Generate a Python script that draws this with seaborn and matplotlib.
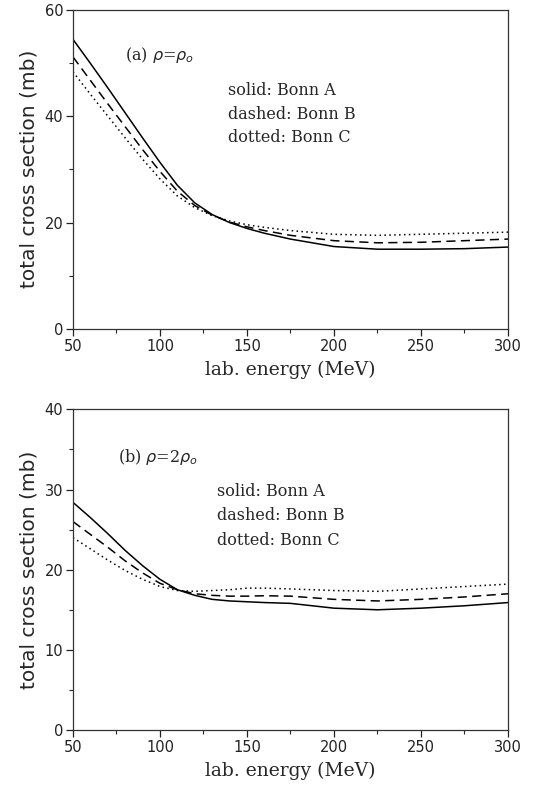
import numpy as np
import pandas as pd
import matplotlib
matplotlib.use("Agg")
import matplotlib.pyplot as plt
import seaborn as sns
from matplotlib.ticker import MultipleLocator

energy = [50, 60, 70, 80, 90, 100, 110, 120, 130, 140, 150, 160, 175, 200, 225, 250, 275, 300]

# panel (a) rho = rho_0
a_bonn_a = [54.4, 49.9, 45.3, 40.6, 35.9, 31.3, 27.0, 23.7, 21.5, 20.0, 18.9, 18.0, 16.9, 15.5, 15.0, 15.0, 15.1, 15.4]
a_bonn_b = [51.1, 46.7, 42.3, 38.0, 33.7, 29.6, 25.9, 23.2, 21.4, 20.1, 19.2, 18.5, 17.6, 16.6, 16.2, 16.3, 16.6, 16.9]
a_bonn_c = [48.3, 44.1, 40.0, 35.9, 31.9, 28.2, 25.0, 22.8, 21.3, 20.3, 19.6, 19.1, 18.5, 17.8, 17.6, 17.8, 18.0, 18.2]

# panel (b) rho = 2 rho_0
b_bonn_a = [28.4, 26.5, 24.5, 22.4, 20.5, 18.8, 17.5, 16.8, 16.3, 16.1, 16.0, 15.9, 15.8, 15.2, 15.0, 15.2, 15.5, 15.9]
b_bonn_b = [26.0, 24.4, 22.8, 21.1, 19.6, 18.3, 17.5, 17.0, 16.8, 16.7, 16.7, 16.75, 16.7, 16.3, 16.1, 16.3, 16.6, 17.0]
b_bonn_c = [24.0, 22.6, 21.2, 19.9, 18.8, 17.9, 17.4, 17.3, 17.4, 17.5, 17.7, 17.7, 17.6, 17.4, 17.3, 17.6, 17.9, 18.2]

x_ticks = [50, 100, 150, 200, 250, 300]
legend_lines = ["solid: Bonn A", "dashed: Bonn B", "dotted: Bonn C"]

sns.set_style("ticks")
plt.rcParams['font.family'] = ['DejaVu Sans']

fig = plt.figure(figsize=(5.57, 7.93), dpi=100)
ax1 = fig.add_axes([0.131, 0.585, 0.781, 0.403])
ax2 = fig.add_axes([0.131, 0.0794, 0.781, 0.4044])


def draw(ax, ya, yb, yc, ymax, major, minor, label, label_xy, leg_xy, leg_dy):
    df = pd.DataFrame({"E": energy * 3,
                       "sigma": ya + yb + yc,
                       "model": ["Bonn A"] * len(energy) + ["Bonn B"] * len(energy) + ["Bonn C"] * len(energy)})
    sns.lineplot(data=df, x="E", y="sigma", style="model",
                 dashes={"Bonn A": "", "Bonn B": (6, 3.5), "Bonn C": (1, 2.2)},
                 color="black", linewidth=1.1, ax=ax, legend=False)
    ax.set_xlim(50, 300)
    ax.set_ylim(0, ymax)
    ax.set_xticks(x_ticks)
    ax.xaxis.set_minor_locator(MultipleLocator(25))
    ax.yaxis.set_major_locator(MultipleLocator(major))
    ax.yaxis.set_minor_locator(MultipleLocator(minor))
    ax.tick_params(axis="both", which="major", direction="out", length=5, width=0.9,
                   labelsize=10.5, colors="#222222", pad=2)
    ax.tick_params(axis="both", which="minor", direction="out", length=3, width=0.8)
    for s in ax.spines.values():
        s.set_visible(True)
        s.set_linewidth(0.9)
        s.set_color("#333333")
    ax.set_xlabel("lab. energy (MeV)", family="DejaVu Serif", fontsize=13.5, labelpad=5)
    ax.set_ylabel("total cross section (mb)", fontsize=14.5, labelpad=4)
    ax.text(label_xy[0], label_xy[1], label, family="DejaVu Serif", fontsize=11.5,
            va="center", ha="left")
    for i, t in enumerate(legend_lines):
        ax.text(leg_xy[0], leg_xy[1] - i * leg_dy, t, family="DejaVu Serif", fontsize=11.5,
                va="center", ha="left")

draw(ax1, a_bonn_a, a_bonn_b, a_bonn_c, 60, 20, 10,
     r"(a) $\rho$=$\rho_o$", (80, 51.4), (139, 44.8), 4.45)
draw(ax2, b_bonn_a, b_bonn_b, b_bonn_c, 40, 10, 5,
     r"(b) $\rho$=2$\rho_o$", (76, 34.0), (133, 29.8), 3.05)

fig.savefig("out.png", dpi=100)
